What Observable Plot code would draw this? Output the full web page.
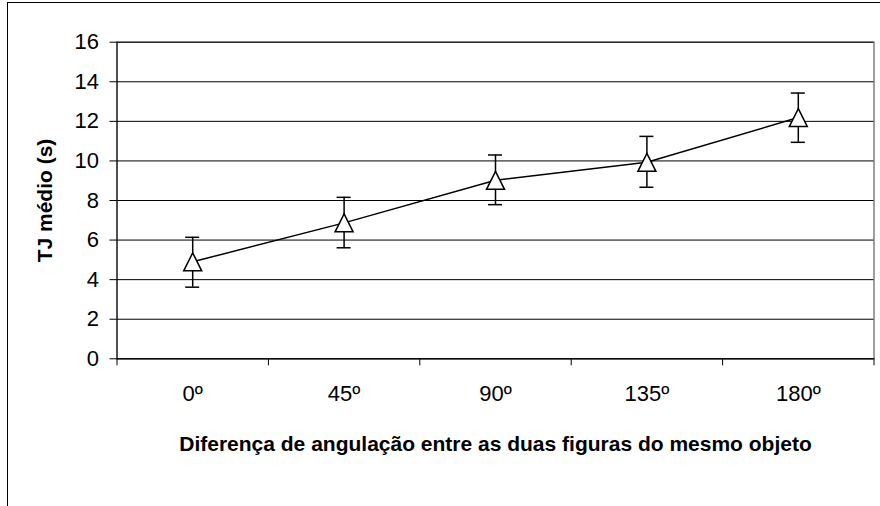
<!DOCTYPE html>
<html><head><meta charset="utf-8">
<script src="https://cdn.jsdelivr.net/npm/d3@7"></script>
<script src="https://cdn.jsdelivr.net/npm/@observablehq/plot@0.6"></script>
<style>
body{margin:0;background:#fff;}
#frame{position:absolute;left:7px;top:2px;width:873px;height:504px;border-left:1px solid #000;border-top:1px solid #000;}
#frame svg{display:block;}
</style></head><body><div id="frame"></div>
<script>
const angles = ["0º","45º","90º","135º","180º"];
const means = [4.90, 6.87, 9.02, 9.93, 12.19];
const lows = [3.62, 5.61, 7.79, 8.67, 10.94];
const highs = [6.14, 8.16, 10.30, 11.24, 13.43];
const yTicks = [0,2,4,6,8,10,12,14,16];
const xTitle = "Diferença de angulação entre as duas figuras do mesmo objeto";
const yTitle = "TJ médio (s)";

const rows = angles.map((a,i)=>({pos:i+0.5, angle:a, mean:means[i], lo:lows[i], hi:highs[i]}));
const bounds = d3.range(angles.length+1);
const tri = {draw(ctx,size){const r=Math.sqrt(size/Math.PI); ctx.moveTo(0,-r); ctx.lineTo(r,r); ctx.lineTo(-r,r); ctx.closePath();}};
const font = "Liberation Sans, Arial, sans-serif";
const chart = Plot.plot({
  width:872, height:503, marginLeft:108.5, marginRight:6.5, marginTop:38.7, marginBottom:147.7,
  style:{fontFamily:font, background:"white", color:"#000"},
  x:{domain:[0,angles.length]}, y:{domain:[0,16]},
  marks:[
    Plot.frame({stroke:"#808080", strokeWidth:1.5}),
    Plot.gridY(yTicks, {stroke:"#000", strokeOpacity:1, strokeWidth:1}),
    Plot.ruleX([0], {stroke:"#000"}),
    Plot.ruleY([0], {stroke:"#000"}),
    Plot.axisY(yTicks, {tickSize:7, tickPadding:11, fontSize:22, label:null, stroke:"#000"}),
    Plot.axisX(bounds, {tickSize:7, stroke:"#000", label:null, tickFormat:()=>""}),
    Plot.axisX(rows.map(d=>d.pos), {tickSize:0, tickPadding:27, fontSize:22, label:null, tickFormat:(p)=>angles[Math.floor(p)]}),
    Plot.ruleX(rows, {x:"pos", y1:"lo", y2:"hi", stroke:"#000", strokeWidth:1.5}),
    Plot.ruleY(rows, {y:"lo", x1:"pos", x2:"pos", insetLeft:-7, insetRight:-7, stroke:"#000", strokeWidth:1.5}),
    Plot.ruleY(rows, {y:"hi", x1:"pos", x2:"pos", insetLeft:-7, insetRight:-7, stroke:"#000", strokeWidth:1.5}),
    Plot.line(rows, {x:"pos", y:"mean", stroke:"#000", strokeWidth:1.5}),
    Plot.dot(rows, {x:"pos", y:"mean", r:9, symbol:tri, fill:"white", stroke:"#000", strokeWidth:1.5}),
    Plot.text([xTitle], {frameAnchor:"bottom", textAnchor:"middle", lineAnchor:"middle", dy:85, fontWeight:"bold", fontSize:21, fill:"#000"}),
    Plot.text([yTitle], {frameAnchor:"left", textAnchor:"middle", lineAnchor:"middle", rotate:-90, dx:-71.5, fontWeight:"bold", fontSize:21, fill:"#000"})
  ]
});
document.getElementById("frame").append(chart);
</script></body></html>
